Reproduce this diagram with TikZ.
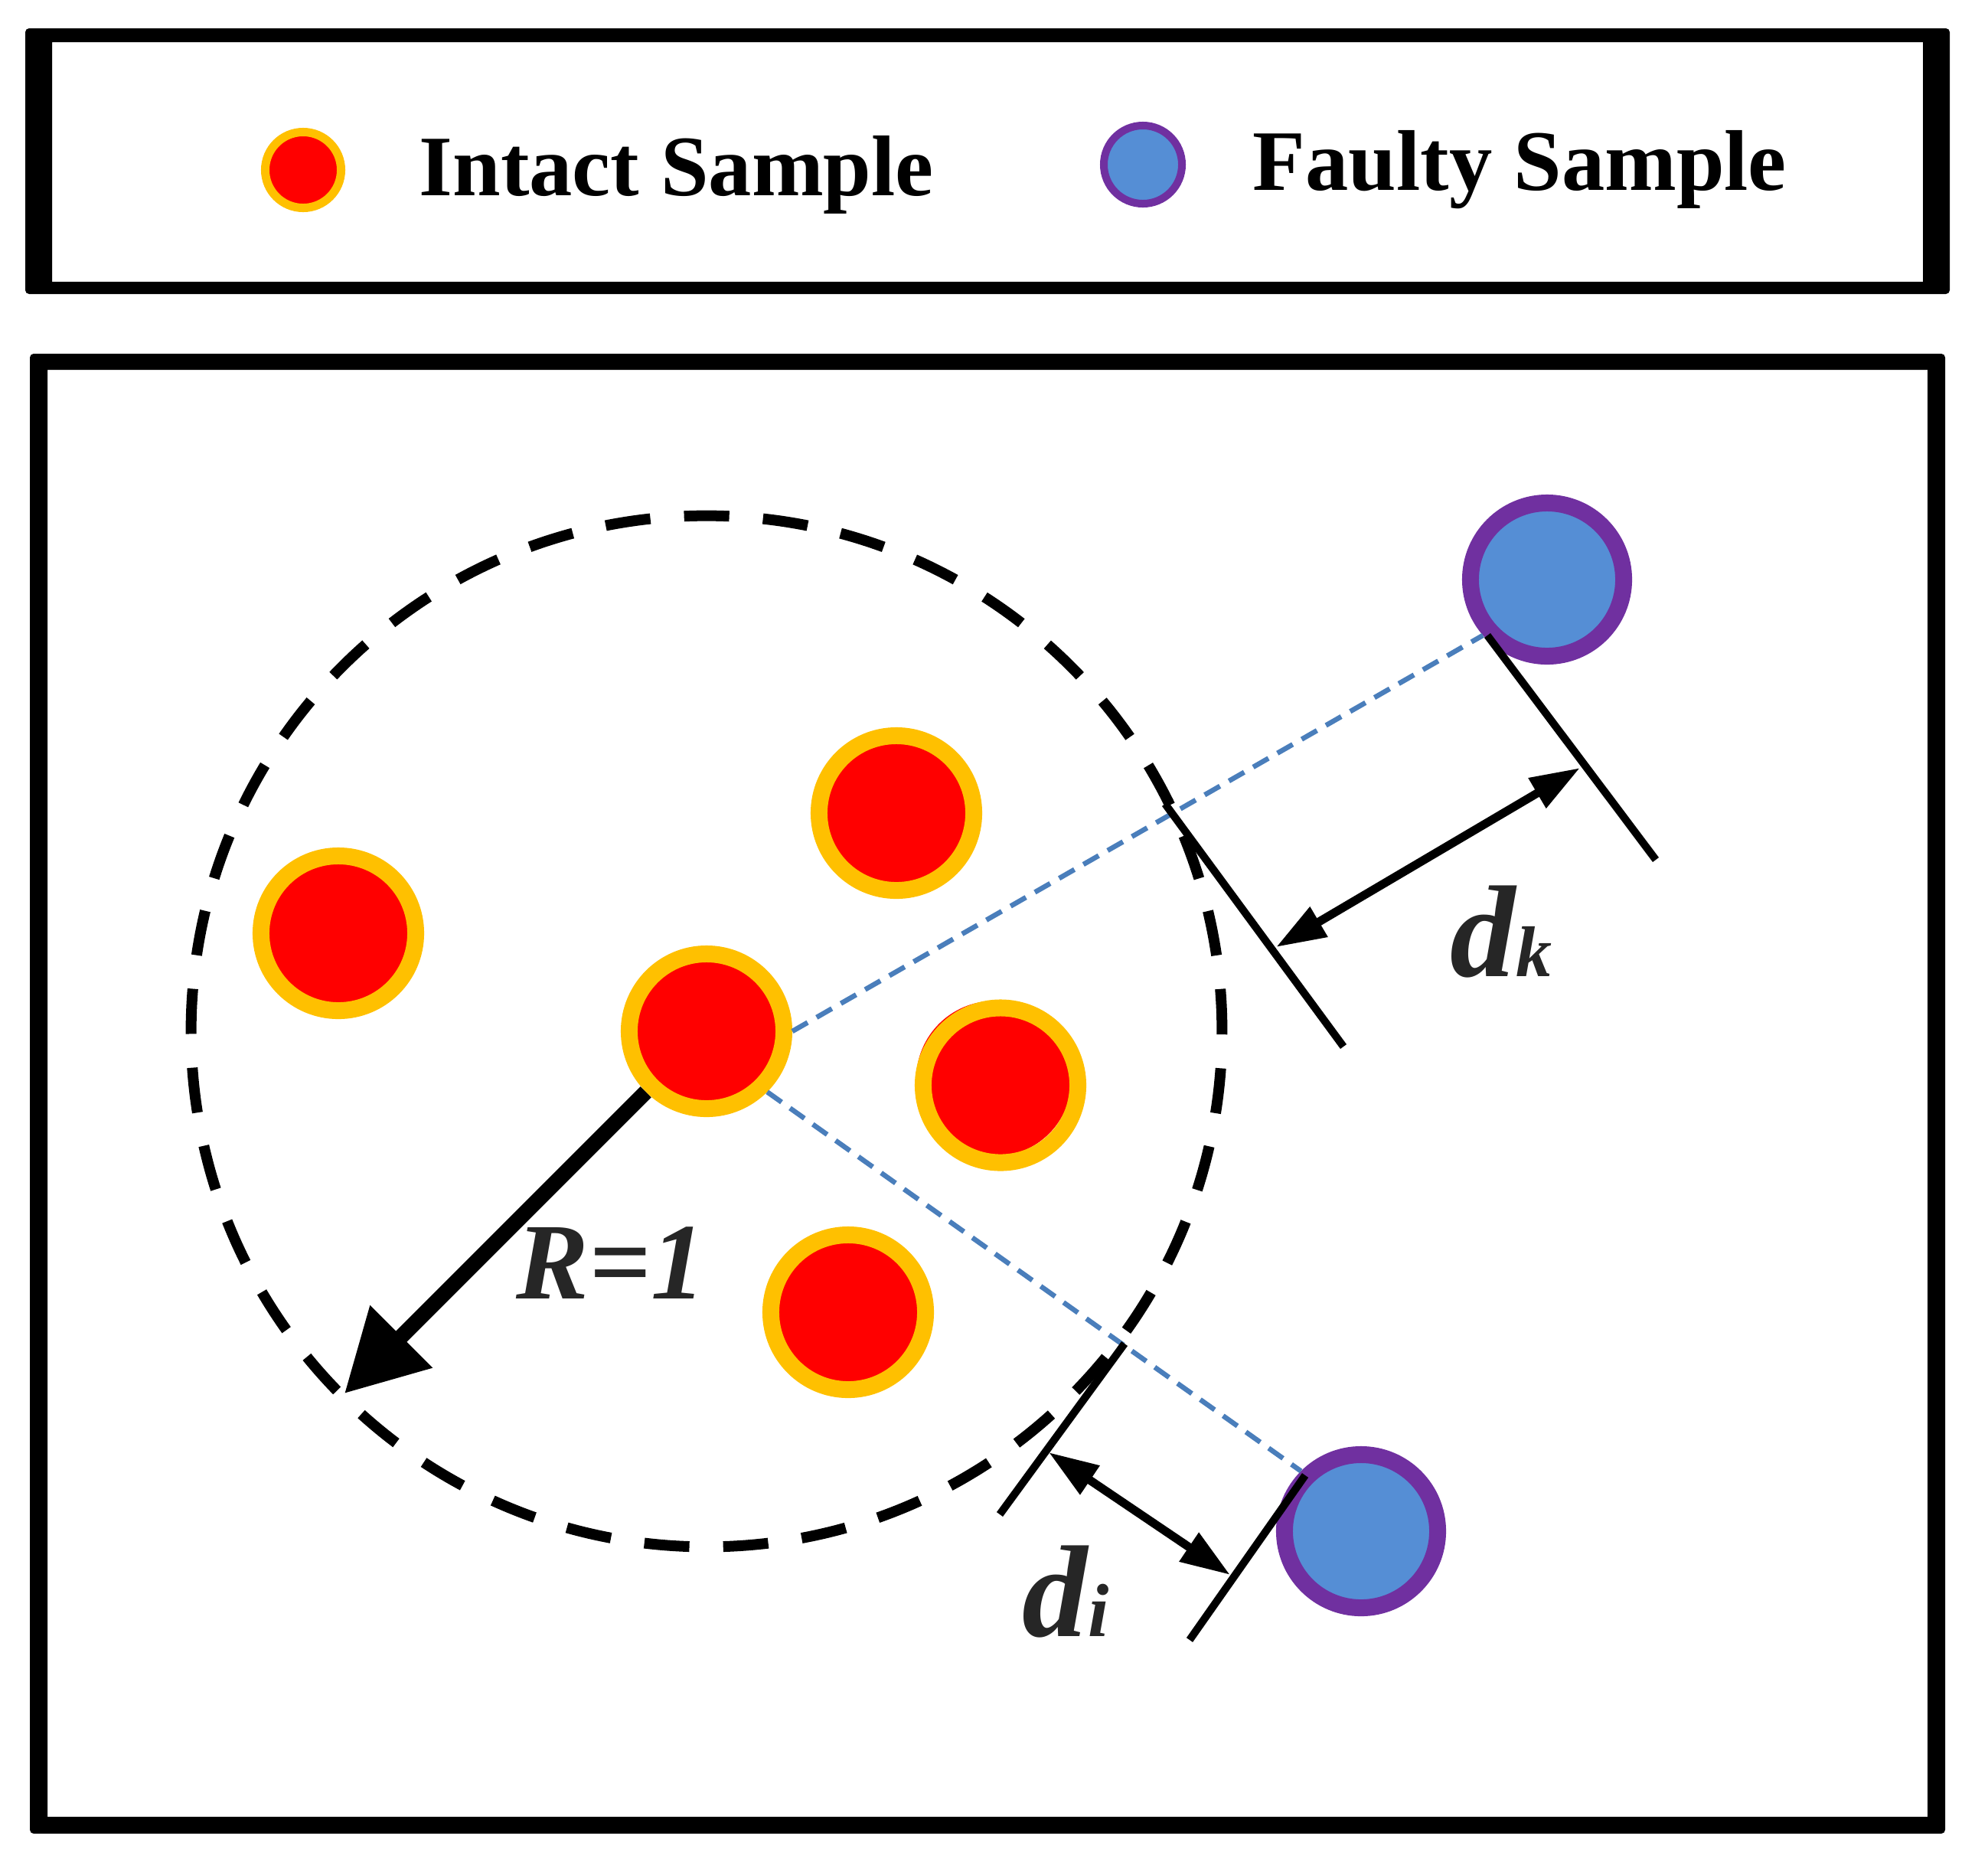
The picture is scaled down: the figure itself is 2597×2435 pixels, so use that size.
\documentclass[tikz,border=0pt]{standalone}
\usepackage{fontspec}
\setmainfont{Liberation Serif}
\usetikzlibrary{arrows.meta}
\definecolor{ringY}{HTML}{FFC000}
\definecolor{fillR}{HTML}{FF0000}
\definecolor{fillB}{HTML}{558ED5}
\definecolor{ringP}{HTML}{7030A0}
\definecolor{lineB}{HTML}{4A7EBB}
\definecolor{txtG}{HTML}{262626}
\begin{document}
\begin{tikzpicture}[x=0.01cm,y=-0.01cm,
  intact/.style={circle, draw=ringY, fill=fillR, line width=0.22cm, minimum size=2.02cm, inner sep=0pt},
  faulty/.style={circle, draw=ringP, fill=fillB, line width=0.22cm, minimum size=2.0cm, inner sep=0pt},
  gapline/.style={draw=lineB, line width=0.065cm, dash pattern=on 0.23cm off 0.135cm},
  tickline/.style={draw=black, line width=0.10cm},
  dimarrow/.style={draw=black, line width=0.11cm, {Triangle[length=0.65cm, width=0.43cm]}-{Triangle[length=0.65cm, width=0.43cm]}},
  radarrow/.style={draw=black, line width=0.20cm, -{Triangle[length=1.05cm, width=1.10cm]}},
  lbl/.style={anchor=base west, inner sep=0pt, text=txtG, font=\bfseries\itshape},
  legtext/.style={anchor=base west, inner sep=0pt, text=black, font=\bfseries\fontsize{32}{38}\selectfont}
]
\useasboundingbox (0,0) rectangle (2597,2435);

% frames
\fill[black, even odd rule] [rounded corners=0.05cm] (33,37) rectangle (2547,384) [sharp corners] (68,55) rectangle (2512,368);
\fill[black, even odd rule] [rounded corners=0.05cm] (39,462) rectangle (2541,2395) [sharp corners] (62,483) rectangle (2518,2373);

% legend
\node[intact, line width=0.11cm, minimum size=0.99cm] (li) at (396,222) {};
\node[legtext] (lt1) at (547,255) {Intact Sample};
\node[faulty, line width=0.10cm, minimum size=1.02cm] (lf) at (1493,215) {};
\node[legtext] (lt2) at (1636,248) {Faulty Sample};

% dashed radius circle
\coordinate (cc) at (923,1347);
\draw[black, line width=0.14cm, dash pattern=on 16.787pt off 12.559pt, dash phase=1.064pt] (cc) circle (6.73cm);

% intact samples
\node[intact] (c1) at (442,1219) {};
\node[intact] (c2) at (1171,1062) {};
\node[intact] (c3) at (923,1347) {};
\fill[fillR] (1298.5,1409) circle (1.015cm);
\node[intact, fill=none] (c4) at (1307,1417.5) {};
\node[intact] (c5) at (1108,1714) {};

% faulty samples
\node[faulty] (fa) at (2021,757) {};
\node[faulty] (fb) at (1778,2000) {};

% distance guide lines
\draw[gapline] (c3.east) -- (fa.221);
\draw[gapline] (c3.315) -- (fb.135);

% dk dimension
\coordinate (t1a) at (1943,830);
\coordinate (t1b) at (2163,1123);
\coordinate (t2a) at (1522,1050);
\coordinate (t2b) at (1755,1367);
\draw[tickline] (t1a) -- (t1b);
\draw[tickline] (t2a) -- (t2b);
\coordinate (dkl) at (1667,1237);
\coordinate (dkr) at (2064,1003);
\draw[dimarrow] (dkl) -- (dkr);
\node[lbl] (dklab) at (1894,1275) {\fontsize{48.6}{58}\selectfont d\fontsize{26.7}{32}\selectfont k};

% di dimension
\coordinate (t3a) at (1469,1755);
\coordinate (t3b) at (1306,1978);
\coordinate (t4a) at (1705,1927);
\coordinate (t4b) at (1554,2142);
\draw[tickline] (t3a) -- (t3b);
\draw[tickline] (t4a) -- (t4b);
\coordinate (dil) at (1370,1897);
\coordinate (dir) at (1607,2057);
\draw[dimarrow] (dil) -- (dir);
\node[lbl] (dilab) at (1335,2137) {\fontsize{48.6}{58}\selectfont d\fontsize{28}{34}\selectfont i};

% radius arrow
\coordinate (rtip) at (450,1820);
\draw[radarrow] (c3.225) -- (rtip);
\node[lbl, font=\bfseries\itshape\fontsize{40.4}{48}\selectfont] (rlab) at (674,1696) {R=1};
\end{tikzpicture}
\end{document}
